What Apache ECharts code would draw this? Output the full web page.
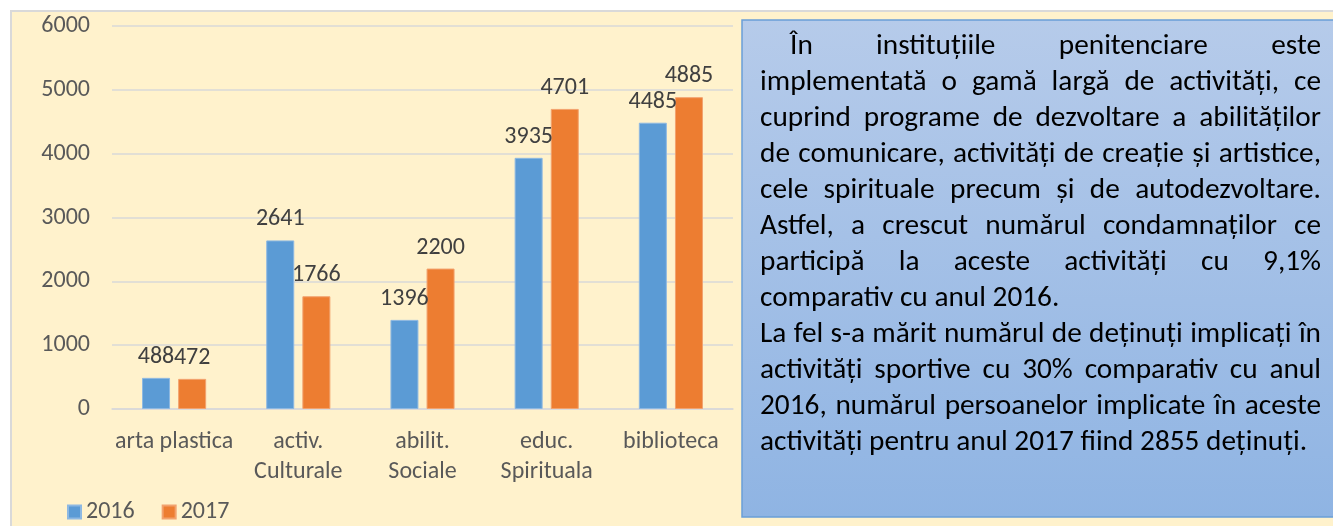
<!DOCTYPE html>
<html>
<head>
<meta charset="utf-8">
<script src="https://cdn.jsdelivr.net/npm/echarts@6/dist/echarts.min.js"></script>
<style>
html,body{margin:0;padding:0;background:#ffffff;}
#chart{width:1333px;height:526px;}
</style>
</head>
<body>
<div id="chart"></div>
<script>
// ---- data ----
const categories = ['arta plastica', 'activ.\nCulturale', 'abilit.\nSociale', 'educ.\nSpirituala', 'biblioteca'];
const seriesNames = ['2016', '2017'];
const values2016 = [488, 2641, 1396, 3935, 4485];
const values2017 = [472, 1766, 2200, 4701, 4885];
const yTicks = [0, 1000, 2000, 3000, 4000, 5000, 6000];
const textLines = [
  'În instituțiile penitenciare este',
  'implementată o gamă largă de activități, ce',
  'cuprind programe de dezvoltare a abilităților',
  'de comunicare, activități de creație și artistice,',
  'cele spirituale precum și de autodezvoltare.',
  'Astfel, a crescut numărul condamnaților ce',
  'participă la aceste activități cu 9,1%',
  'comparativ cu anul 2016.',
  'La fel s-a mărit numărul de deținuți implicați în',
  'activități sportive cu 30% comparativ cu anul',
  '2016, numărul persoanelor implicate în aceste',
  'activități pentru anul 2017 fiind 2855 deținuți.'
];
const justifyFlags = [true, true, true, true, true, true, true, false, true, true, true, false];

// ---- layout ----
const FONT = 'Calibri, Carlito, Lato, sans-serif';
const chart = echarts.init(document.getElementById('chart'));

const boxX = 742, boxY = 20, boxW = 620, boxH = 497;
const textX0 = 760, textX1 = 1321, indent = 30;
const firstLineY = 47, lineStep = 36;

const mctx = document.createElement('canvas').getContext('2d');
mctx.font = '100px ' + FONT;
const refW = mctx.measureText(textLines[11]).width;
const textSize = Math.round(100 * 548 / refW * 10) / 10;
mctx.font = textSize + 'px ' + FONT;

const textGraphics = [];
textLines.forEach((line, i) => {
  const y = firstLineY + i * lineStep;
  const xs = i === 0 ? textX0 + indent : textX0;
  const style = { fill: '#000000', font: textSize + 'px ' + FONT, textVerticalAlign: 'middle', textAlign: 'left' };
  if (justifyFlags[i]) {
    const words = line.split(' ');
    const widths = words.map(w => mctx.measureText(w).width);
    const total = widths.reduce((a, b) => a + b, 0);
    const gap = (textX1 - xs - total) / (words.length - 1);
    let x = xs;
    words.forEach((w, k) => {
      textGraphics.push({ type: 'text', x: x, y: y, z: 10, style: Object.assign({ text: w }, style) });
      x += widths[k] + gap;
    });
  } else {
    textGraphics.push({ type: 'text', x: xs, y: y, z: 10, style: Object.assign({ text: line }, style) });
  }
});

const option = {
  backgroundColor: '#ffffff',
  animation: false,
  textStyle: { fontFamily: FONT },
  graphic: [
    { type: 'rect', z: -10, shape: { x: 11, y: 11, width: 1340, height: 540 },
      style: { fill: '#FFF2CC', stroke: '#D9D9D9', lineWidth: 2 } },
    { type: 'rect', z: 5, shape: { x: boxX, y: boxY, width: boxW, height: boxH },
      style: {
        fill: new echarts.graphic.LinearGradient(0, 0, 0, 1, [
          { offset: 0, color: '#B6CBEA' },
          { offset: 1, color: '#8FB4E3' }
        ]),
        stroke: '#6A9FD8', lineWidth: 1.5
      } }
  ].concat(textGraphics),
  legend: {
    data: seriesNames,
    left: 62, top: 495,
    itemWidth: 13, itemHeight: 13, itemGap: 27,
    icon: 'rect',
    textStyle: { color: '#595959', fontSize: 24, fontFamily: FONT }
  },
  grid: { left: 112, right: 600, top: 26, bottom: 117, containLabel: false },
  xAxis: {
    type: 'category',
    data: categories,
    axisLine: { show: true, lineStyle: { color: '#D9D9D9', width: 1.5 } },
    axisTick: { show: false },
    axisLabel: { color: '#595959', fontSize: 24, margin: 18, lineHeight: 30, interval: 0, fontFamily: FONT }
  },
  yAxis: {
    type: 'value',
    min: yTicks[0], max: yTicks[yTicks.length - 1], interval: 1000,
    axisLine: { show: false },
    axisTick: { show: false },
    splitLine: { lineStyle: { color: '#D9D9D9', width: 1.5 } },
    axisLabel: { color: '#595959', fontSize: 24, margin: 22, fontFamily: FONT, formatter: v => String(v) }
  },
  series: [
    { name: seriesNames[0], type: 'bar', data: values2016, barWidth: 28, barGap: '29%',
      itemStyle: { color: '#5B9BD5', borderColor: '#8DB8E2', borderWidth: 1 },
      label: { show: true, position: 'top', distance: 9, color: '#404040', fontSize: 24, fontFamily: FONT } },
    { name: seriesNames[1], type: 'bar', data: values2017, barWidth: 28,
      itemStyle: { color: '#ED7D31', borderColor: '#F2A26E', borderWidth: 1 },
      label: { show: true, position: 'top', distance: 9, color: '#404040', fontSize: 24, fontFamily: FONT } }
  ]
};
chart.setOption(option);
</script>
</body>
</html>
